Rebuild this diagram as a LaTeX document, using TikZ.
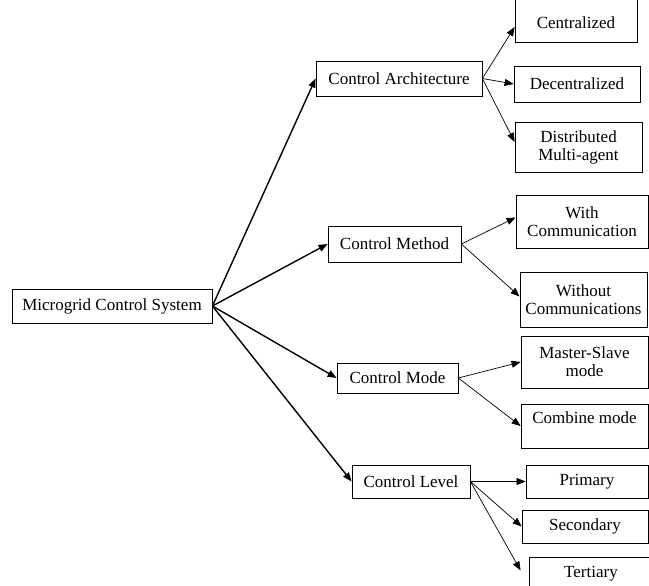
\documentclass[tikz,border=0pt]{standalone}
\usepackage{fontspec}
\setmainfont{Liberation Serif}
\usetikzlibrary{arrows.meta}
\begin{document}
\begin{tikzpicture}[x=1pt,y=-1pt,
  box/.style={draw, line width=0.8pt, inner sep=0pt, align=center,
    font=\fontsize{17}{18}\selectfont},
  mainarrow/.style={line width=1.4pt, -{Triangle[length=9pt,width=7pt]}},
  subarrow/.style={line width=0.7pt, -{Triangle[length=9pt,width=7pt]}}]
\useasboundingbox (0,0) rectangle (649,586);
% level 0
\node[box, minimum width=200, minimum height=34] (main) at (112,306) {Microgrid Control System};
% level 1
\node[box, minimum width=166, minimum height=35] (ca) at (399,78.5) {Control Architecture};
\node[box, minimum width=133, minimum height=36] (cm) at (394.5,244) {Control Method};
\node[box, minimum width=121, minimum height=30] (mode) at (397.5,378) {Control Mode};
\node[box, minimum width=118, minimum height=33] (level) at (411,481.5) {Control Level};
% level 2
\node[box, minimum width=122, minimum height=50] (cent) at (576,17) {\vphantom{Cg}\smash{\raisebox{-8pt}{Centralized}}};
\node[box, minimum width=126, minimum height=36] (dec) at (577,84) {Decentralized};
\node[box, minimum width=127, minimum height=50] (dist) at (578.5,147) {Distributed\\Multi-agent};
\node[box, minimum width=132, minimum height=53] (wc) at (582,221.5) {With\\Communication};
\node[box, minimum width=127, minimum height=55] (woc) at (583.5,299.5) {Without\\Communications};
\node[box, minimum width=127, minimum height=52] (ms) at (584.5,362) {Master-Slave\\mode};
\node[box, minimum width=127, minimum height=44] (comb) at (584.5,426) {\vphantom{Cg}\smash{\raisebox{6pt}{Combine mode}}};
\node[box, minimum width=122, minimum height=33] (prim) at (587,481.5) {Primary};
\node[box, minimum width=126, minimum height=33] (sec) at (585,526.5) {Secondary};
\node[box, minimum width=124, minimum height=33] (ter) at (591,573.5) {Tertiary};
% connectors
\draw[mainarrow] (main.east) -- (ca.west);
\draw[mainarrow] (main.east) -- (cm.west);
\draw[mainarrow] (main.east) -- (mode.west);
\draw[mainarrow] (main.east) -- (level.west);
\draw[subarrow] (ca.east) -- ([yshift=-10pt]cent.west);
\draw[subarrow] (ca.east) -- (dec.west);
\draw[subarrow] (ca.east) -- ([yshift=5pt]dist.west);
\draw[subarrow] (cm.east) -- ([yshift=4pt]wc.west);
\draw[subarrow] (cm.east) -- ([yshift=3pt]woc.west);
\draw[subarrow] (mode.east) -- (ms.west);
\draw[subarrow] (mode.east) -- (comb.west);
\draw[subarrow] (level.east) -- (prim.west);
\draw[subarrow] (level.east) -- (sec.west);
\draw[subarrow] (level.east) -- ([xshift=-8pt,yshift=3pt]ter.west);
\end{tikzpicture}
\end{document}
